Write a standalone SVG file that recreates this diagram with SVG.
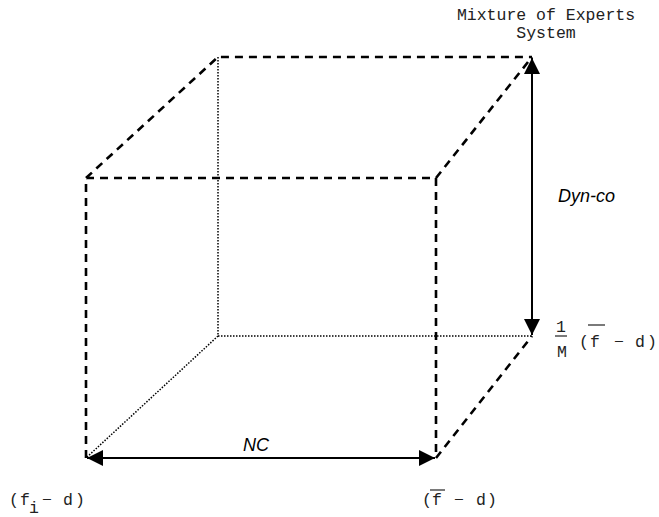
<svg xmlns="http://www.w3.org/2000/svg" width="659" height="517" viewBox="0 0 659 517">
<style>
.dash{fill:none;stroke:#000;stroke-width:2.6;stroke-dasharray:8,6}
.dot{fill:none;stroke:#000;stroke-width:1.5;stroke-dasharray:1.5,1.5}
.arr{fill:none;stroke:#000;stroke-width:2}
.mono{font-family:"Liberation Mono",monospace;font-size:16.5px;fill:#222}
.lab{font-family:"Liberation Sans",sans-serif;font-style:italic;font-size:18px;fill:#000}
.bar{stroke:#222;stroke-width:1.2}
</style>
<defs>
<marker id="ah" viewBox="0 0 10 10" refX="10" refY="5" markerWidth="16" markerHeight="16" markerUnits="userSpaceOnUse" orient="auto-start-reverse">
<path d="M0,0 L10,5 L0,10 z" fill="#000"/>
</marker>
</defs>
<g id="cube">
<path class="dot" d="M218,57 V336 H532 M218,336 L86,458"/>
<path class="dash" d="M86,458 V178 H436 V458 M86,178 L218,57 H532 M436,178 L532,57 M436,458 L532,336"/>
</g>
<g id="connectors">
<line class="arr" x1="87" y1="458" x2="435" y2="458" marker-start="url(#ah)" marker-end="url(#ah)"/>
<line class="arr" x1="532" y1="58" x2="532" y2="335" marker-start="url(#ah)" marker-end="url(#ah)"/>
</g>
<g id="labels">
<text class="lab" x="256" y="451" text-anchor="middle">NC</text>
<text class="lab" x="558" y="202">Dyn-co</text>
<text class="mono" x="546" y="20" text-anchor="middle">Mixture of Experts</text>
<text class="mono" x="546" y="38" text-anchor="middle">System</text>
<text class="mono" x="9 20" y="505">(f</text>
<text class="mono" x="29" y="513">i</text>
<text class="mono" x="42 52 63 75" y="505">− d)</text>
<text class="mono" x="422 432 442 454 464 476 487" y="505">(f − d)</text>
<line class="bar" x1="430" y1="490" x2="445" y2="490"/>
<text class="mono" x="561" y="332" text-anchor="middle">1</text>
<line class="bar" x1="555" y1="336" x2="567" y2="336"/>
<text class="mono" x="562" y="357" text-anchor="middle">M</text>
<text class="mono" x="579 590 600 614 624 635 647" y="347">(f − d)</text>
<line class="bar" x1="588" y1="325" x2="605" y2="325"/>
</g>
</svg>
